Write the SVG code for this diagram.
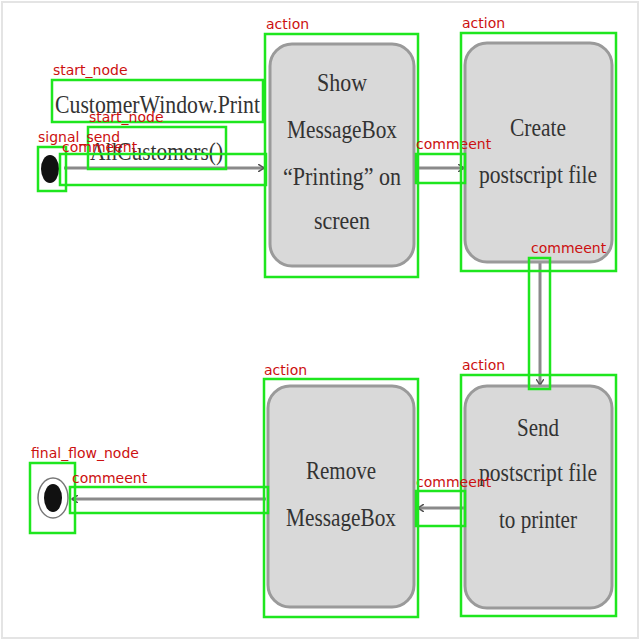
<svg xmlns="http://www.w3.org/2000/svg" width="640" height="640" viewBox="0 0 640 640">
<defs>
<style>
.act{fill:#d9d9d9;stroke:#9a9a9a;stroke-width:3}
.t{font-family:"Liberation Serif",serif;font-size:25px;fill:#333;text-anchor:middle}
.tl{font-family:"Liberation Serif",serif;font-size:26px;fill:#333}
.c{stroke:#8a8a8a;stroke-width:3;fill:none}
.g{fill:none;stroke:#1ee61e;stroke-width:2.5}
.lb{font-family:"DejaVu Sans",sans-serif;font-size:14px;fill:#cc1010}
</style>
<marker id="ah" markerWidth="8" markerHeight="8" refX="6" refY="4" orient="auto" markerUnits="userSpaceOnUse">
<path d="M0,0 L6,4 L0,8" fill="none" stroke="#555" stroke-width="1.5"/>
</marker>
</defs>
<rect x="0" y="0" width="640" height="640" fill="#fff"/>
<rect x="2" y="2" width="636" height="636" fill="none" stroke="#e4e4e4" stroke-width="2"/>
<g id="connectors">
<line class="c" x1="64" y1="168" x2="264" y2="168" marker-end="url(#ah)"/>
<line class="c" x1="416" y1="168" x2="464" y2="168" marker-end="url(#ah)"/>
<line class="c" x1="540" y1="262" x2="540" y2="385" marker-end="url(#ah)"/>
<line class="c" x1="464" y1="508" x2="418" y2="508" marker-end="url(#ah)"/>
<line class="c" x1="266" y1="499" x2="72" y2="499" marker-end="url(#ah)"/>
</g>
<g id="start_label">
<text class="tl" x="55" y="113" textLength="205" lengthAdjust="spacingAndGlyphs">CustomerWindow.Print</text>
<text class="tl" x="90" y="160" textLength="133" lengthAdjust="spacingAndGlyphs">AllCustomers()</text>
</g>
<g id="start_node">
<ellipse cx="50" cy="169" rx="9" ry="14" fill="#111"/>
</g>
<g id="action1">
<rect class="act" x="270" y="44" width="144" height="222" rx="22"/>
<text class="t" x="342" y="91" textLength="50" lengthAdjust="spacingAndGlyphs">Show</text>
<text class="t" x="342" y="138" textLength="110" lengthAdjust="spacingAndGlyphs">MessageBox</text>
<text class="t" x="342" y="185" textLength="118" lengthAdjust="spacingAndGlyphs">“Printing” on</text>
<text class="t" x="342" y="229" textLength="56" lengthAdjust="spacingAndGlyphs">screen</text>
</g>
<g id="action2">
<rect class="act" x="465" y="43" width="147" height="219" rx="22"/>
<text class="t" x="538" y="136" textLength="56" lengthAdjust="spacingAndGlyphs">Create</text>
<text class="t" x="538" y="183" textLength="118" lengthAdjust="spacingAndGlyphs">postscript file</text>
</g>
<g id="action3">
<rect class="act" x="465" y="386" width="147" height="222" rx="22"/>
<text class="t" x="538" y="436" textLength="42" lengthAdjust="spacingAndGlyphs">Send</text>
<text class="t" x="538" y="481" textLength="118" lengthAdjust="spacingAndGlyphs">postscript file</text>
<text class="t" x="538" y="528" textLength="78" lengthAdjust="spacingAndGlyphs">to printer</text>
</g>
<g id="action4">
<rect class="act" x="268" y="386" width="146" height="221" rx="22"/>
<text class="t" x="341" y="479" textLength="70" lengthAdjust="spacingAndGlyphs">Remove</text>
<text class="t" x="341" y="526" textLength="110" lengthAdjust="spacingAndGlyphs">MessageBox</text>
</g>
<g id="final_node">
<ellipse cx="53" cy="498" rx="15" ry="20" fill="#fff" stroke="#777" stroke-width="1.5"/>
<ellipse cx="53" cy="498" rx="9" ry="14" fill="#111"/>
</g>
<g id="annotations">
<rect class="g" x="52" y="80" width="211" height="42"/>
<text class="lb" x="53" y="75">start_node</text>
<rect class="g" x="88" y="127" width="138" height="42"/>
<text class="lb" x="89" y="122">start_node</text>
<rect class="g" x="38" y="147" width="28" height="44"/>
<text class="lb" x="38" y="142">signal_send</text>
<rect class="g" x="60" y="154" width="206" height="31"/>
<text class="lb" x="62" y="152">commeent</text>
<rect class="g" x="265" y="34" width="153" height="243"/>
<text class="lb" x="266" y="29">action</text>
<rect class="g" x="416" y="154" width="49" height="29"/>
<text class="lb" x="416" y="149">commeent</text>
<rect class="g" x="461" y="33" width="155" height="238"/>
<text class="lb" x="462" y="28">action</text>
<rect class="g" x="529" y="258" width="21" height="131"/>
<text class="lb" x="531" y="253">commeent</text>
<rect class="g" x="461" y="375" width="155" height="241"/>
<text class="lb" x="462" y="370">action</text>
<rect class="g" x="416" y="491" width="49" height="35"/>
<text class="lb" x="416" y="487">commeent</text>
<rect class="g" x="264" y="379" width="154" height="238"/>
<text class="lb" x="264" y="375">action</text>
<rect class="g" x="30" y="463" width="45" height="70"/>
<text class="lb" x="31" y="458">final_flow_node</text>
<rect class="g" x="70" y="487" width="198" height="26"/>
<text class="lb" x="72" y="483">commeent</text>
</g>
</svg>
